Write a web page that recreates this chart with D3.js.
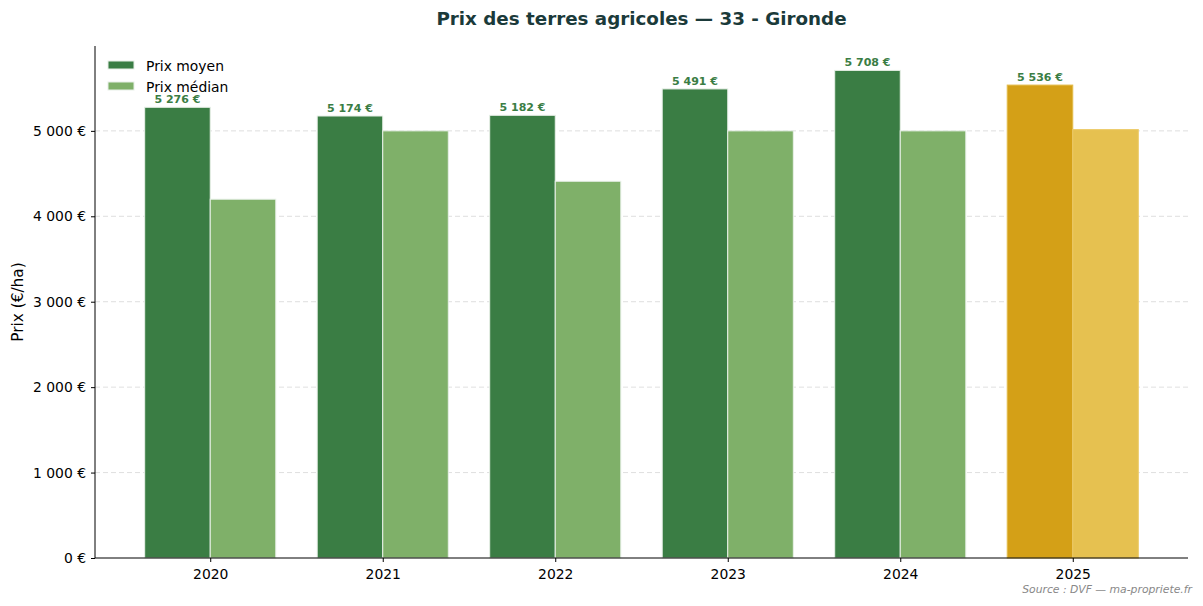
<!DOCTYPE html>
<html>
<head>
<meta charset="utf-8">
<script src="https://cdn.jsdelivr.net/npm/d3@7"></script>
<style>
  body { margin: 0; background: #fff; }
  svg { font-family: "DejaVu Sans", sans-serif; }
</style>
</head>
<body>
<svg id="chart" width="1203" height="606"></svg>
<script>
// data
const years = ['2020', '2021', '2022', '2023', '2024', '2025'];
const prixMoyen = [5276, 5174, 5182, 5491, 5708, 5536];
const prixMedian = [4200, 5000, 4410, 5000, 5000, 5015];
const yTicks = [0, 1000, 2000, 3000, 4000, 5000];

const svg = d3.select('#chart');
const margin = { left: 95, right: 15, top: 46, bottom: 48 };
const W = 1203, H = 606;
const x0 = margin.left, x1 = W - margin.right;
const yBottom = H - margin.bottom, yTop = margin.top;

// same layout as matplotlib: bar width 0.38, 5% margins
const barW = 0.38;
const pad = (years.length - 1 + 2 * barW) * 0.05;
const x = d3.scaleLinear()
  .domain([-barW - pad, years.length - 1 + barW + pad])
  .range([x0, x1]);
const y = d3.scaleLinear()
  .domain([0, d3.max(prixMoyen) * 1.05])
  .range([yBottom, yTop]);

const fmt = v => d3.format(',')(v).replace(/,/g, ' ') + ' €';

// grid
svg.append('g')
  .selectAll('line')
  .data(yTicks.slice(1))
  .join('line')
  .attr('x1', x0).attr('x2', x1)
  .attr('y1', d => y(d)).attr('y2', d => y(d))
  .attr('stroke', '#b0b0b0')
  .attr('stroke-opacity', 0.4)
  .attr('stroke-dasharray', '5,3');

const isLast = i => i === years.length - 1;

// mean bars
svg.append('g')
  .selectAll('rect')
  .data(prixMoyen)
  .join('rect')
  .attr('x', (d, i) => x(i - barW))
  .attr('width', x(barW) - x(0))
  .attr('y', d => y(d))
  .attr('height', d => yBottom - y(d))
  .attr('fill', (d, i) => isLast(i) ? '#d4a017' : '#3a7d44')
  .attr('stroke', (d, i) => isLast(i) ? '#e3bb4a' : '#e8f0e8')
  .attr('stroke-width', 1);

// median bars
svg.append('g')
  .selectAll('rect')
  .data(prixMedian)
  .join('rect')
  .attr('x', (d, i) => x(i))
  .attr('width', x(barW) - x(0))
  .attr('y', d => y(d))
  .attr('height', d => yBottom - y(d))
  .attr('fill', (d, i) => isLast(i) ? '#e6c150' : '#7fb069')
  .attr('stroke', (d, i) => isLast(i) ? '#eccb6a' : '#e8f0e8')
  .attr('stroke-width', 1);

// value labels on mean bars
svg.append('g')
  .selectAll('text')
  .data(prixMoyen)
  .join('text')
  .attr('x', (d, i) => x(i - barW / 2))
  .attr('y', d => y(d) - 4)
  .attr('text-anchor', 'middle')
  .attr('font-size', 11)
  .attr('font-weight', 'bold')
  .attr('fill', '#3a7d44')
  .text(d => fmt(d));

// axes
const yAxis = d3.axisLeft(y)
  .tickValues(yTicks)
  .tickFormat(fmt)
  .tickSize(4)
  .tickPadding(5);
const gy = svg.append('g')
  .attr('transform', `translate(${x0},0)`)
  .call(yAxis);
gy.select('.domain').attr('d', `M0,${yTop}V${yBottom}`).attr('stroke', '#000');
gy.selectAll('text').attr('font-size', 13.9).attr('font-family', 'DejaVu Sans').attr('fill', '#000');

const xAxis = d3.axisBottom(x)
  .tickValues(d3.range(years.length))
  .tickFormat(i => years[i])
  .tickSize(4)
  .tickPadding(7);
const gx = svg.append('g')
  .attr('transform', `translate(0,${yBottom})`)
  .call(xAxis);
gx.select('.domain').attr('d', `M${x0},0H${x1}`).attr('stroke', '#000');
gx.selectAll('text').attr('font-size', 13.9).attr('font-family', 'DejaVu Sans').attr('fill', '#000');

// y label
svg.append('text')
  .attr('transform', `translate(23,${(yTop + yBottom) / 2}) rotate(-90)`)
  .attr('text-anchor', 'middle')
  .attr('font-size', 15.3)
  .text('Prix (€/ha)');

// title
svg.append('text')
  .attr('x', (x0 + x1) / 2)
  .attr('y', 25)
  .attr('text-anchor', 'middle')
  .attr('font-size', 18.3)
  .attr('font-weight', 'bold')
  .attr('fill', '#1b3a3a')
  .text('Prix des terres agricoles — 33 - Gironde');

// legend
const legendItems = [
  { label: 'Prix moyen', color: '#3a7d44' },
  { label: 'Prix médian', color: '#7fb069' }
];
const lg = svg.append('g').selectAll('g')
  .data(legendItems)
  .join('g')
  .attr('transform', (d, i) => `translate(108,${61 + i * 21})`);
lg.append('rect')
  .attr('width', 26).attr('height', 8)
  .attr('fill', d => d.color)
  .attr('stroke', '#e8f0e8');
lg.append('text')
  .attr('x', 38).attr('y', 9.5)
  .attr('font-size', 13.9)
  .text(d => d.label);

// source
svg.append('text')
  .attr('x', 1192)
  .attr('y', 593)
  .attr('text-anchor', 'end')
  .attr('font-size', 10.8)
  .attr('font-style', 'italic')
  .attr('fill', '#888')
  .text('Source : DVF — ma-propriete.fr');
</script>
</body>
</html>
